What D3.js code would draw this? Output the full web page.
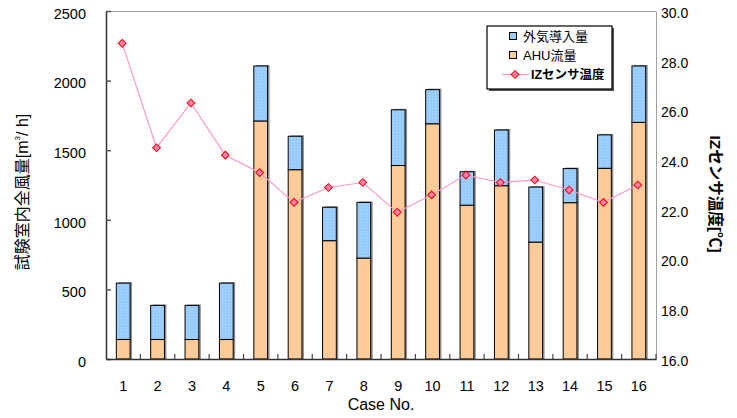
<!DOCTYPE html>
<html>
<head>
<meta charset="utf-8">
<script src="https://cdn.jsdelivr.net/npm/d3@7/dist/d3.min.js"></script>
<style>
  html, body { margin: 0; padding: 0; background: #fff; }
  svg { display: block; font-family: "Liberation Sans", "Noto Sans CJK JP", sans-serif; }
</style>
</head>
<body>
<svg id="chart" width="737" height="418"></svg>
<script>
// Case numbers on the x axis
const cases = ["1","2","3","4","5","6","7","8","9","10","11","12","13","14","15","16"];
// AHU flow [m³/h] (lower stacked segment)
const ahuFlow = [140, 140, 140, 140, 1710, 1360, 850, 725, 1390, 1690, 1105, 1245, 840, 1123, 1370, 1700];
// Outdoor air intake [m³/h] (upper stacked segment)
const outdoorAir = [405, 245, 245, 405, 395, 240, 240, 400, 400, 245, 240, 400, 395, 245, 240, 405];
// IZ sensor temperature [℃] (right axis)
const izTemp = [28.7, 24.5, 26.3, 24.2, 23.5, 22.3, 22.9, 23.1, 21.9, 22.6, 23.4, 23.1, 23.2, 22.8, 22.3, 23.0];
// Axis ticks
const flowTicks = [0, 500, 1000, 1500, 2000, 2500];
const tempTicks = [16, 18, 20, 22, 24, 26, 28, 30];
// Series names
const seriesNames = ["外気導入量", "AHU流量", "IZセンサ温度"];

const svg = d3.select("#chart");
const L = 106, R = 656, T = 11, B = 359;

const x = d3.scaleBand().domain(cases).range([L, R]).padding(0);
const yFlow = d3.scaleLinear().domain([0, 2500]).range([B, T]);
const yTemp = d3.scaleLinear().domain([16, 30]).range([B, T]);

const blue = "#99ccff", orange = "#ffcc99";

// subtle texture for the outdoor-air segment
const defs = svg.append("defs");
const pat = defs.append("pattern").attr("id", "blueTex")
  .attr("width", 3).attr("height", 3).attr("patternUnits", "userSpaceOnUse");
pat.append("rect").attr("width", 3).attr("height", 3).attr("fill", blue);
pat.append("rect").attr("x", 0).attr("y", 0).attr("width", 1).attr("height", 1).attr("fill", "#add6ff");
pat.append("rect").attr("x", 2).attr("y", 1).attr("width", 1).attr("height", 1).attr("fill", "#8fc4f7");

// plot frame: light top edge
svg.append("line").attr("x1", L).attr("x2", R).attr("y1", T + 0.5).attr("y2", T + 0.5)
  .attr("stroke", "#a0a0a0").attr("stroke-width", 1);

// bars
const barW = x.bandwidth() * 0.4;
const rows = cases.map((c, i) => ({ c, ahu: ahuFlow[i], oa: outdoorAir[i], t: izTemp[i] }));
const bars = svg.append("g");
rows.forEach(d => {
  const bx = x(d.c) + (x.bandwidth() - barW) / 2;
  const yTop = yFlow(d.ahu + d.oa), yMid = yFlow(d.ahu);
  // drop shadow
  bars.append("rect").attr("x", bx + 2).attr("y", yTop - 1).attr("width", barW).attr("height", B - yTop + 1)
    .attr("fill", "#7a7a7a").attr("opacity", 0.85);
  bars.append("rect").attr("x", bx).attr("y", yMid).attr("width", barW).attr("height", B - yMid)
    .attr("fill", orange).attr("stroke", "#000").attr("stroke-width", 1);
  bars.append("rect").attr("x", bx).attr("y", yTop).attr("width", barW).attr("height", yMid - yTop)
    .attr("fill", "url(#blueTex)").attr("stroke", "#000").attr("stroke-width", 1);
});

// right axis (temperature)
const rightAxis = svg.append("g").attr("transform", `translate(${R},0)`)
  .call(d3.axisRight(yTemp).tickValues(tempTicks).tickFormat(d3.format(".1f")).tickSizeInner(0).tickSizeOuter(0).tickPadding(5));
rightAxis.select(".domain").attr("stroke", "#a0a0a0");
rightAxis.selectAll("text").attr("font-size", 14).attr("fill", "#000").attr("dy", "0.45em");

// left axis (flow)
const leftAxis = svg.append("g").attr("transform", `translate(${L},0)`)
  .call(d3.axisLeft(yFlow).tickValues(flowTicks).tickFormat(d3.format("d")).tickSizeInner(-5).tickSizeOuter(0).tickPadding(20));
leftAxis.select(".domain").attr("stroke", "#333").attr("stroke-width", 1.5);
leftAxis.selectAll(".tick line").attr("stroke", "#555").attr("stroke-width", 1.5);
leftAxis.selectAll("text").attr("font-size", 14.5).attr("fill", "#000").attr("dy", "0.5em");

// bottom axis with ticks between categories
const bottomAxis = svg.append("g").attr("transform", `translate(0,${B})`)
  .call(d3.axisBottom(x).tickSize(0).tickPadding(22));
bottomAxis.select(".domain").attr("stroke", "#333").attr("stroke-width", 1.5);
bottomAxis.selectAll("text").attr("font-size", 14.5).attr("fill", "#000");
const bounds = cases.slice(1).map(c => x(c)).concat([R]);
svg.append("g").selectAll("line").data(bounds).join("line")
  .attr("x1", d => d).attr("x2", d => d).attr("y1", B).attr("y2", B - 5)
  .attr("stroke", "#444").attr("stroke-width", 1.2);

// temperature line with diamond markers
const cx = c => x(c) + x.bandwidth() / 2 - 1;
const line = d3.line().x(d => cx(d.c)).y(d => yTemp(d.t));
svg.append("path").datum(rows).attr("d", line)
  .attr("fill", "none").attr("stroke", "#ff99cc").attr("stroke-width", 1.2);
const diamond = d3.symbol().type(d3.symbolSquare).size(30);
svg.append("g").selectAll("path").data(rows).join("path")
  .attr("d", diamond)
  .attr("transform", d => `translate(${cx(d.c)},${yTemp(d.t)}) rotate(45)`)
  .attr("fill", "#ff80b0").attr("stroke", "#ff0000").attr("stroke-width", 1);

// axis titles
const lt = svg.append("text").attr("transform", "translate(28,192) rotate(-90)")
  .attr("text-anchor", "middle").attr("font-size", 16).attr("fill", "#000");
lt.append("tspan").text("試験室内全風量[m");
lt.append("tspan").attr("font-size", 8).attr("dy", -8).text("3");
lt.append("tspan").attr("dy", 8).text("/ h]");
svg.append("text").attr("transform", "translate(710,194) rotate(90)")
  .attr("text-anchor", "middle").attr("font-size", 15.5).attr("font-weight", "bold").attr("fill", "#000")
  .text("IZセンサ温度[℃]");
svg.append("text").attr("x", (L + R) / 2).attr("y", 410)
  .attr("text-anchor", "middle").attr("font-size", 16).attr("fill", "#000")
  .text("Case No.");

// legend
const lg = svg.append("g");
lg.append("rect").attr("x", 489).attr("y", 28).attr("width", 125).attr("height", 63).attr("fill", "#555");
lg.append("rect").attr("x", 487).attr("y", 26).attr("width", 125).attr("height", 63)
  .attr("fill", "#fff").attr("stroke", "#000").attr("stroke-width", 1.2);
const legRows = [36, 55, 74.5];
lg.append("rect").attr("x", 509.5).attr("y", legRows[0] - 3.5).attr("width", 7).attr("height", 7)
  .attr("fill", blue).attr("stroke", "#000").attr("stroke-width", 1);
lg.append("rect").attr("x", 509.5).attr("y", legRows[1] - 3.5).attr("width", 7).attr("height", 7)
  .attr("fill", orange).attr("stroke", "#000").attr("stroke-width", 1);
lg.append("line").attr("x1", 502).attr("x2", 529).attr("y1", legRows[2]).attr("y2", legRows[2])
  .attr("stroke", "#ff99cc").attr("stroke-width", 1.2);
lg.append("path").attr("d", diamond).attr("transform", `translate(515,${legRows[2]}) rotate(45)`)
  .attr("fill", "#ff80b0").attr("stroke", "#ff0000").attr("stroke-width", 1);
lg.append("text").attr("x", 523).attr("y", legRows[0]).attr("dy", "0.36em").attr("font-size", 13).text(seriesNames[0]);
lg.append("text").attr("x", 523).attr("y", legRows[1]).attr("dy", "0.36em").attr("font-size", 13).text(seriesNames[1]);
lg.append("text").attr("x", 531).attr("y", legRows[2]).attr("dy", "0.36em").attr("font-size", 12.5).attr("font-weight", "bold").text(seriesNames[2]);
</script>
</body>
</html>
